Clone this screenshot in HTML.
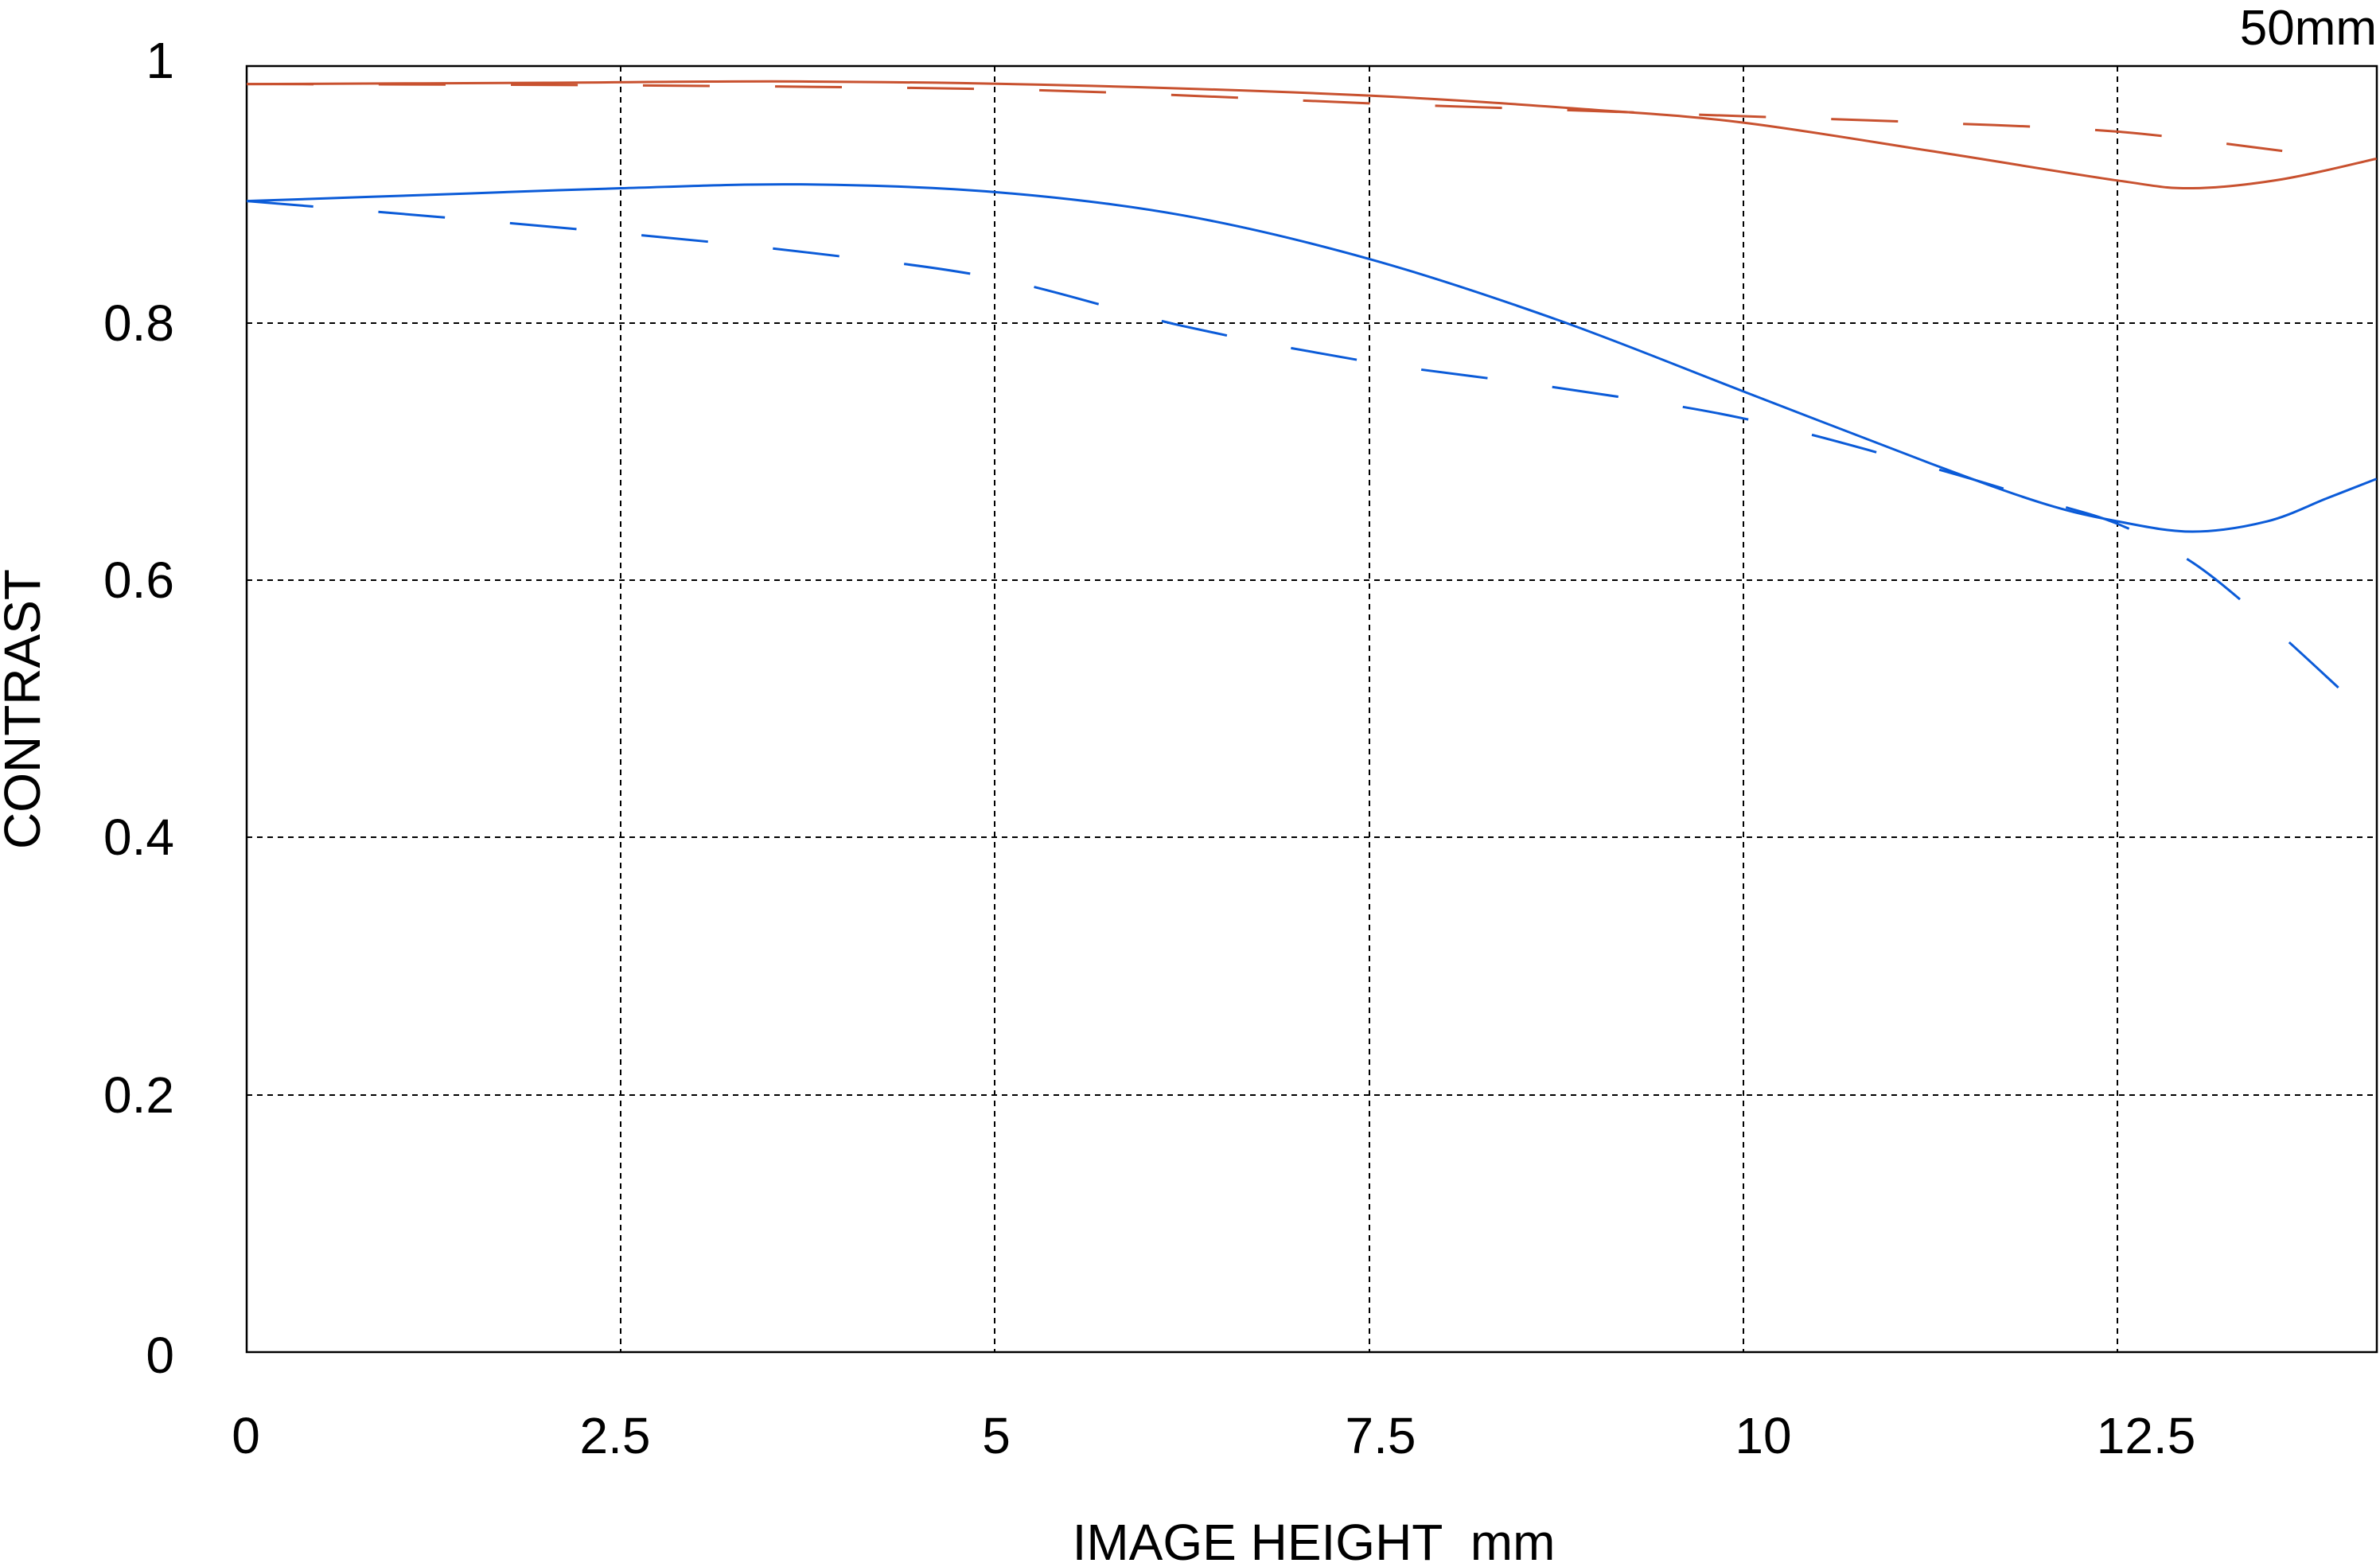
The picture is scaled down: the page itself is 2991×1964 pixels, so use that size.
<!DOCTYPE html>
<html><head><meta charset="utf-8"><style>
html,body{margin:0;padding:0;background:#fff;}
svg{display:block;}
text{font-family:"Liberation Sans",sans-serif;fill:#000;}
</style></head><body>
<svg id="s" width="2991" height="1964" viewBox="0 0 2991 1964" xmlns="http://www.w3.org/2000/svg">
<g stroke="#000" stroke-width="2" stroke-dasharray="7,6" fill="none">
<line x1="310" y1="406" x2="2987" y2="406"/>
<line x1="310" y1="729" x2="2987" y2="729"/>
<line x1="310" y1="1052" x2="2987" y2="1052"/>
<line x1="310" y1="1376" x2="2987" y2="1376"/>
<line x1="780" y1="83" x2="780" y2="1699"/>
<line x1="1250" y1="83" x2="1250" y2="1699"/>
<line x1="1721" y1="83" x2="1721" y2="1699"/>
<line x1="2191" y1="83" x2="2191" y2="1699"/>
<line x1="2661" y1="83" x2="2661" y2="1699"/>
</g>
<rect x="310" y="83" width="2677" height="1616" fill="none" stroke="#000" stroke-width="2.5"/>
<g id="curves" fill="none" stroke-width="3"></g>
<g font-size="64" text-anchor="end">
<text x="219" y="98">1</text>
<text x="219" y="428">0.8</text>
<text x="219" y="751">0.6</text>
<text x="219" y="1074">0.4</text>
<text x="219" y="1398">0.2</text>
<text x="219" y="1725">0</text>
</g>
<g font-size="64" text-anchor="middle">
<text x="309" y="1826">0</text>
<text x="773" y="1826">2.5</text>
<text x="1252" y="1826">5</text>
<text x="1735" y="1826">7.5</text>
<text x="2216" y="1826">10</text>
<text x="2697" y="1826">12.5</text>
</g>
<text x="2987" y="56" font-size="62" text-anchor="end">50mm</text>
<text x="1651" y="1960" font-size="64" text-anchor="middle" xml:space="preserve" style="white-space:pre">IMAGE HEIGHT  mm</text>
<text transform="translate(50,891) rotate(-90)" font-size="64" text-anchor="middle">CONTRAST</text>
</svg>
<script>
var X=function(v){return 310+v*188.1;},Y=function(c){return 1699-c*1616;};
var series=[
 {c:"#c8512f",d:null,p:[[0,0.986],[2,0.987],[3.7,0.988],[5.5,0.985],[7.5,0.977],[9,0.966],[10,0.956],[11.25,0.934],[12.5,0.911],[13,0.905],[13.6,0.912],[14.23,0.928]]},
 {c:"#c8512f",d:"84,82",p:[[0,0.986],[2.5,0.985],[5,0.982],[6.5,0.976],[7.5,0.971],[9,0.965],[10,0.961],[11.25,0.956],[12.5,0.949],[13.6,0.934]]},
 {c:"#0b5bd8",d:null,p:[[0,0.895],[1.5,0.901],[2.5,0.905],[3.7,0.908],[5,0.902],[6.25,0.884],[7.5,0.85],[8.75,0.803],[10,0.747],[11.25,0.691],[12,0.66],[12.5,0.646],[13,0.638],[13.5,0.646],[13.9,0.664],[14.23,0.679]]},
 {c:"#0b5bd8",d:"84,82",p:[[0,0.895],[1.25,0.883],[2.5,0.870],[3.75,0.855],[5,0.835],[6.25,0.798],[7.5,0.77],[8.75,0.75],[10,0.726],[11.25,0.688],[12,0.662],[12.5,0.644],[13,0.614],[13.5,0.567],[14,0.514]]}
];
var g=document.getElementById("curves"),ns="http://www.w3.org/2000/svg";
series.forEach(function(s){
 var P=s.p.map(function(q){return [X(q[0]),Y(q[1])];});
 var d="M"+P[0][0]+","+P[0][1];
 for(var i=0;i<P.length-1;i++){
  var p0=P[i-1]||P[i],p1=P[i],p2=P[i+1],p3=P[i+2]||P[i+1];
  var c1=[p1[0]+(p2[0]-p0[0])/6,p1[1]+(p2[1]-p0[1])/6],c2=[p2[0]-(p3[0]-p1[0])/6,p2[1]-(p3[1]-p1[1])/6];
  d+="C"+c1[0]+","+c1[1]+" "+c2[0]+","+c2[1]+" "+p2[0]+","+p2[1];
 }
 var e=document.createElementNS(ns,"path");
 e.setAttribute("d",d);e.setAttribute("stroke",s.c);
 if(s.d)e.setAttribute("stroke-dasharray",s.d);
 g.appendChild(e);
});
</script>
</body></html>
